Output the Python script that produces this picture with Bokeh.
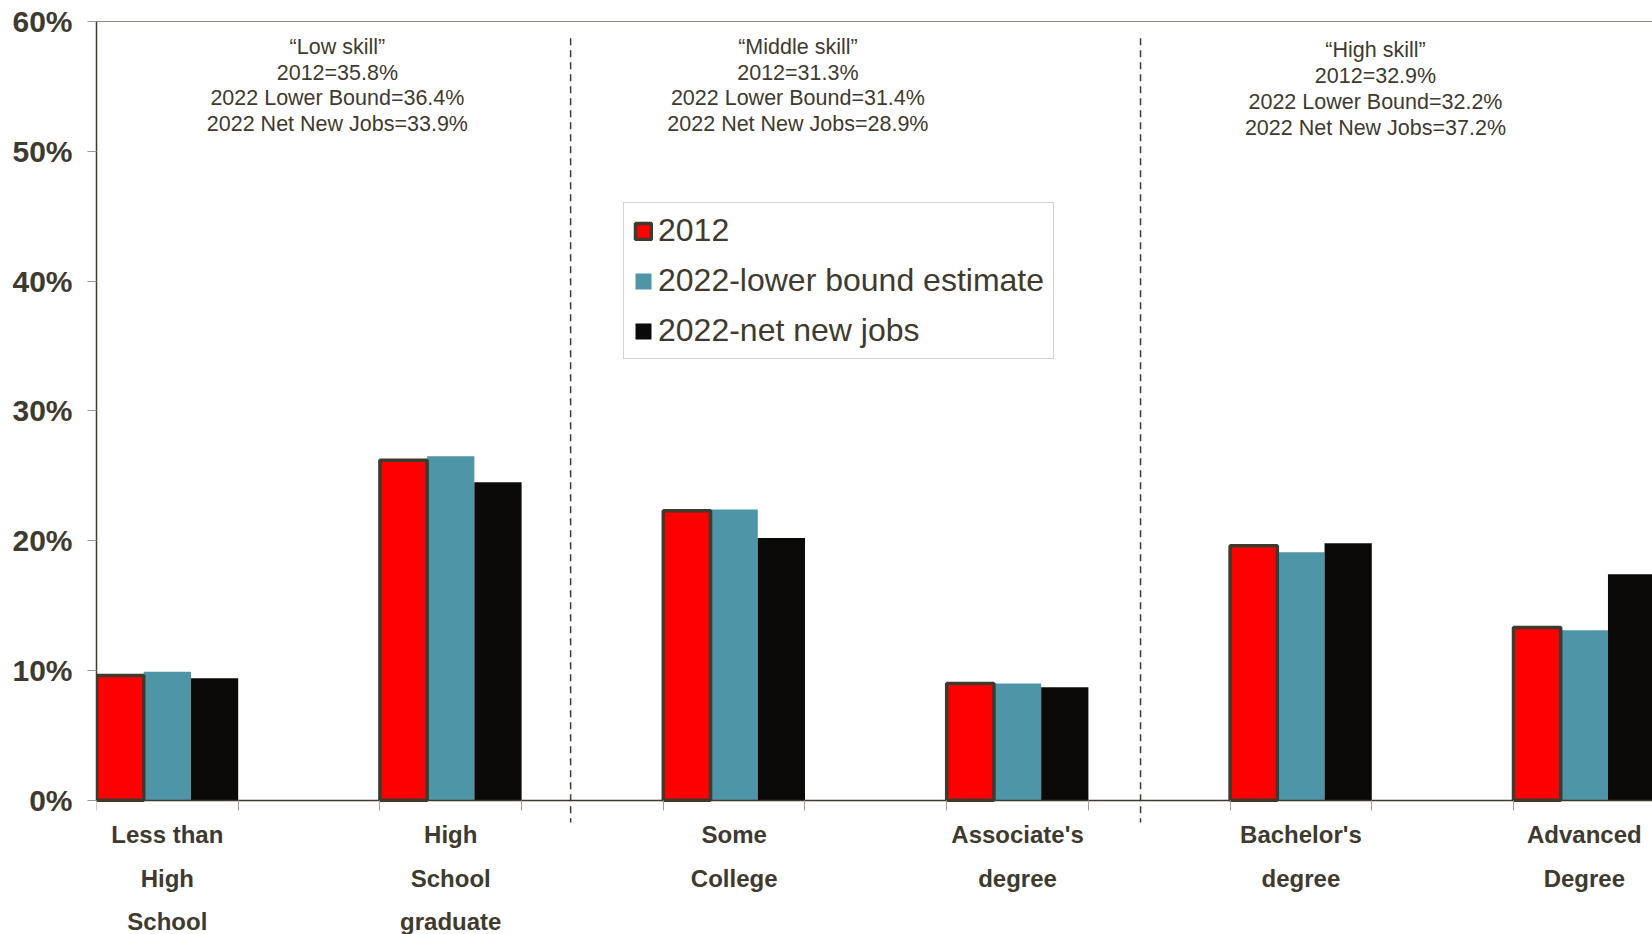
from bokeh.plotting import figure
from bokeh.models import (Range1d, FixedTicker, LinearAxis, Label, Legend, LegendItem,
                          CustomJSTickFormatter)
from bokeh.embed import file_html
from bokeh.resources import INLINE

# ---------------- data ----------------
categories = [["Less than", "High", "School"],
              ["High", "School", "graduate"],
              ["Some", "College"],
              ["Associate's", "degree"],
              ["Bachelor's", "degree"],
              ["Advanced", "Degree"]]
series_names = ["2012", "2022-lower bound estimate", "2022-net new jobs"]
values_2012 = [9.6, 26.2, 22.3, 9.0, 19.6, 13.3]
values_lower = [9.9, 26.5, 22.4, 9.0, 19.1, 13.1]
values_net = [9.4, 24.5, 20.2, 8.7, 19.8, 17.4]
y_ticks = [0, 10, 20, 30, 40, 50, 60]
group_notes = [
    ["\u201cLow skill\u201d", "2012=35.8%", "2022 Lower Bound=36.4%", "2022 Net New Jobs=33.9%"],
    ["\u201cMiddle skill\u201d", "2012=31.3%", "2022 Lower Bound=31.4%", "2022 Net New Jobs=28.9%"],
    ["\u201cHigh skill\u201d", "2012=32.9%", "2022 Lower Bound=32.2%", "2022 Net New Jobs=37.2%"],
]

# ---------------- styles ----------------
TXT = "#3f3a2e"
RED = "#ff0000"
BLUE = "#4f95a8"
BLACK = "#0b0a08"
FONT = "Liberation Sans"

p = figure(width=1652, height=934, output_backend="svg", toolbar_location=None,
           x_range=Range1d(0, 5.4905), y_range=Range1d(-10.35, 60),
           min_border_left=96, min_border_right=0, min_border_top=21, min_border_bottom=0,
           background_fill_color="white", border_fill_color="white")
p.outline_line_color = None
p.xgrid.visible = False
p.ygrid.visible = False
p.xaxis.visible = False
p.yaxis.visible = False

bw = 1.0 / 6.0
n = len(categories)
x_red = [i + 0.5 * bw for i in range(n)]
x_blue = [i + 1.5 * bw for i in range(n)]
x_black = [i + 2.5 * bw for i in range(n)]

r_blue = p.vbar(x=x_blue, top=values_lower, bottom=0, width=bw, fill_color=BLUE, line_color=None)
r_black = p.vbar(x=x_black, top=values_net, bottom=0, width=bw, fill_color=BLACK, line_color=None)
r_red = p.vbar(x=x_red, top=values_2012, bottom=0, width=bw, fill_color=RED,
               line_color=TXT, line_width=3.5)

# axes
yaxis = LinearAxis(ticker=FixedTicker(ticks=y_ticks), bounds=(0, 60),
                   formatter=CustomJSTickFormatter(code="return tick + '%';"))
yaxis.axis_line_color = TXT
yaxis.axis_line_width = 1.5
yaxis.major_tick_out = 9
yaxis.major_tick_in = 0
yaxis.major_tick_line_color = "#9b988f"
yaxis.minor_tick_line_color = None
yaxis.major_label_text_font = FONT
yaxis.major_label_text_font_style = "bold"
yaxis.major_label_text_font_size = "30px"
yaxis.major_label_text_color = TXT
yaxis.major_label_standoff = 15
p.add_layout(yaxis, "left")

xaxis = LinearAxis(ticker=FixedTicker(ticks=[k * 0.5 for k in range(12)]), fixed_location=0,
                   formatter=CustomJSTickFormatter(code="return '';"))
xaxis.axis_line_color = TXT
xaxis.axis_line_width = 1.5
xaxis.major_tick_out = 10
xaxis.major_tick_in = 0
xaxis.major_tick_line_color = "#a3a097"
xaxis.minor_tick_line_color = None
p.add_layout(xaxis, "below")

top_axis = LinearAxis(ticker=FixedTicker(ticks=[]))
top_axis.axis_line_color = "#8f8c82"
top_axis.axis_line_width = 1.2
top_axis.major_tick_line_color = None
top_axis.minor_tick_line_color = None
p.add_layout(top_axis, "above")

# category labels under axis
row_y = [-2.68, -6.0, -9.33]
for i, lines in enumerate(categories):
    for j, t in enumerate(lines):
        p.add_layout(Label(x=i + 0.25, y=row_y[j], text=t, text_align="center",
                           text_baseline="middle", text_font=FONT, text_font_style="bold",
                           text_font_size="24px", text_color=TXT))

# dashed separators
sep_x = [1.673, 3.684]
p.segment(x0=sep_x, y0=[58.7] * 2, x1=sep_x, y1=[-1.72] * 2,
          line_color=TXT, line_width=1.5, line_dash="7 5")

# group notes
note_x = [0.85, 2.475, 4.513]
note_y = [[58.05, 56.01, 54.07, 52.11],
          [58.05, 56.01, 54.07, 52.11],
          [57.8, 55.77, 53.82, 51.79]]
for g, lines in enumerate(group_notes):
    for j, t in enumerate(lines):
        p.add_layout(Label(x=note_x[g], y=note_y[g][j], text=t, text_align="center",
                           text_baseline="middle", text_font=FONT, text_font_size="21.5px",
                           text_color=TXT))

legend = Legend(items=[LegendItem(label=series_names[0], renderers=[r_red]),
                       LegendItem(label=series_names[1], renderers=[r_blue]),
                       LegendItem(label=series_names[2], renderers=[r_black])],
                location=(527, 575))
legend.label_text_font = FONT
legend.label_text_font_size = "32px"
legend.label_text_color = TXT
legend.glyph_width = 20
legend.glyph_height = 20
legend.label_standoff = 5
legend.padding = 9
legend.spacing = 13
legend.margin = 0
legend.border_line_color = "#aaa89e"
legend.border_line_width = 1.2
legend.background_fill_color = "white"
legend.background_fill_alpha = 1
p.add_layout(legend)

open("out.html", "w").write(file_html(p, INLINE))
